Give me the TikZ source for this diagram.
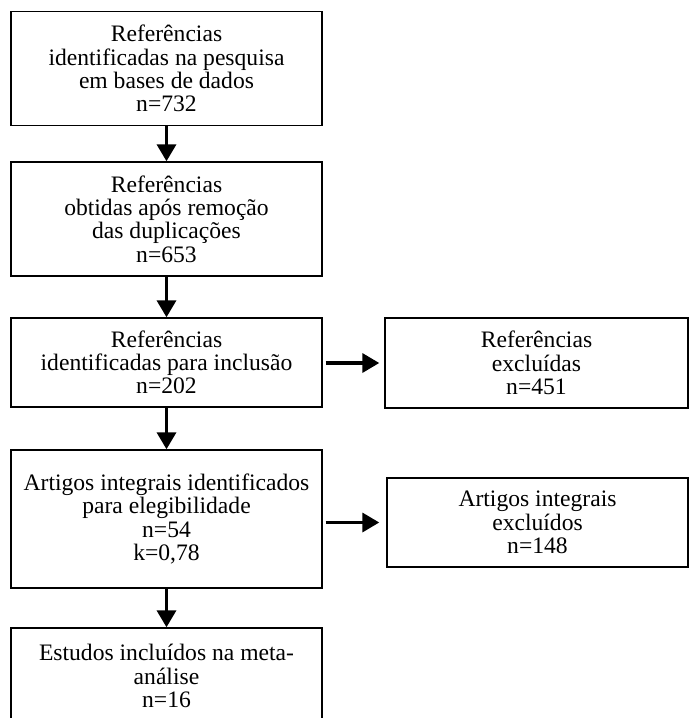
\documentclass[tikz,border=0pt]{standalone}
\usepackage{fontspec}
\setmainfont{Liberation Serif}
\usetikzlibrary{arrows.meta}
\begin{document}
\begin{tikzpicture}[x=1pt,y=-1pt,
  flowbox/.style={draw=black,line width=1.4pt,fill=white,inner sep=0pt,
    align=center,font=\fontsize{23.6}{23.3}\selectfont},
  flowarrow/.style={line width=3.5pt,-{Triangle[length=17pt,width=19pt]}}]
  \clip (0,0) rectangle (689,718);
  \fill[white] (0,0) rectangle (689,718);
  % main column
  \node[flowbox,minimum width=311pt,minimum height=114pt] (b1) at (166.5,68.5)
    {Referências\\identificadas na pesquisa\\em bases de dados\\n=732};
  \node[flowbox,minimum width=311pt,minimum height=114pt] (b2) at (166.5,219)
    {Referências\\obtidas após remoção\\das duplicações\\n=653};
  \node[flowbox,minimum width=311pt,minimum height=89pt] (b3) at (166.5,362.5)
    {Referências\\identificadas para inclusão\\n=202};
  \node[flowbox,minimum width=311pt,minimum height=138pt] (b4) at (166.5,519)
    {Artigos integrais identificados\\para elegibilidade\\n=54\\k=0,78};
  \node[flowbox,minimum width=311pt,minimum height=96pt] (b5) at (166.5,676)
    {Estudos incluídos na meta-\\análise\\n=16};
  % exclusion column
  \node[flowbox,minimum width=303pt,minimum height=90pt] (r1) at (536.5,363)
    {Referências\\excluídas\\n=451};
  \node[flowbox,minimum width=301pt,minimum height=89pt] (r2) at (537.5,522.5)
    {Artigos integrais\\excluídos\\n=148};
  % connectors
  \draw[flowarrow] (b1.south) -- (b2.north);
  \draw[flowarrow] (b2.south) -- (b3.north);
  \draw[flowarrow] (b3.south) -- (b4.north);
  \draw[flowarrow] (b4.south) -- (b5.north);
  \draw[flowarrow,shorten <=3pt,shorten >=5pt] (b3.east |- r1.west) -- (r1.west);
  \draw[flowarrow,shorten <=3pt,shorten >=7pt] (b4.east |- r2.west) -- (r2.west);
\end{tikzpicture}
\end{document}
